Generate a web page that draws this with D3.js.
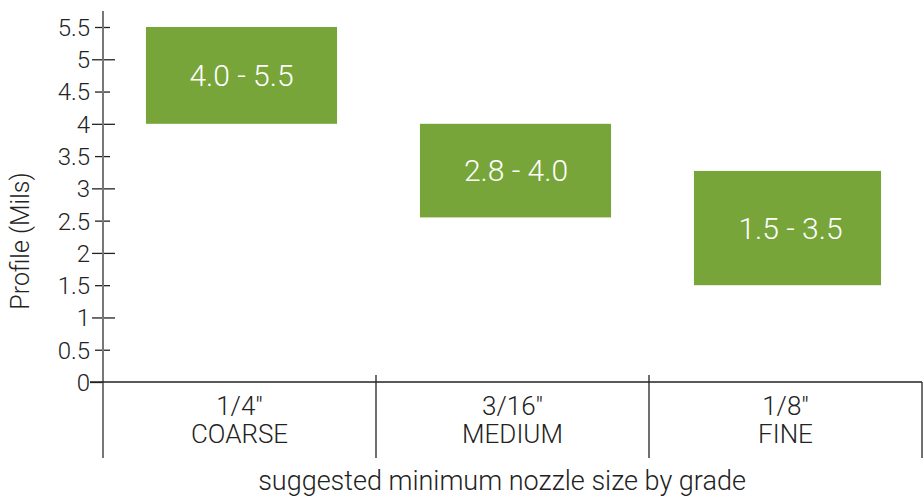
<!DOCTYPE html>
<html>
<head>
<meta charset="utf-8">
<script src="https://cdn.jsdelivr.net/npm/d3@7"></script>
<style>
  body { margin: 0; background: #fff; }
  svg text { font-family: Roboto, "Liberation Sans", sans-serif; font-weight: 300; fill: #222; }
</style>
</head>
<body>
<div class="chart"></div>
<script>
// data ============================================ //
var grades = ["COARSE", "MEDIUM", "FINE"];
var nozzles = ["1/4\u2033", "3/16\u2033", "1/8\u2033"];
var lows = [4.0, 2.55, 1.5];
var highs = [5.5, 4.0, 3.27];
var rangeLabels = ["4.0 - 5.5", "2.8 - 4.0", "1.5 - 3.5"];
var yTicks = [0, 0.5, 1, 1.5, 2, 2.5, 3, 3.5, 4, 4.5, 5, 5.5];

var width = 924, height = 497;
var margin = { top: 27, left: 103, right: 2, axisY: 382 };

var svg = d3.select(".chart")
  .append("svg")
  .attr("width", width)
  .attr("height", height);

var y = d3.scaleLinear()
  .domain([0, 5.5])
  .range([margin.axisY, margin.top]);

var x = d3.scaleBand()
  .domain(grades)
  .range([margin.left, width - margin.right])
  .paddingInner(0);

// bars
var data = grades.map(function (g, i) {
  return { grade: g, lo: lows[i], hi: highs[i], label: rangeLabels[i] };
});

var barW = x.bandwidth() * 0.7;
svg.append("g")
  .selectAll("rect")
  .data(data)
  .enter()
  .append("rect")
  .attr("x", function (d, i) { return x(d.grade) + (x.bandwidth() - barW) / 2 + 2 + i; })
  .attr("width", function (d, i) { return i === 2 ? barW - 4 : barW; })
  .attr("y", function (d) { return y(d.hi); })
  .attr("height", function (d) { return y(d.lo) - y(d.hi); })
  .attr("fill", "#78a53a");

svg.append("g")
  .selectAll("text")
  .data(data)
  .enter()
  .append("text")
  .attr("x", function (d, i) { return x(d.grade) + x.bandwidth() / 2 + 2 + i * 1.5; })
  .attr("y", function (d) { return (y(d.lo) + y(d.hi)) / 2; })
  .attr("text-anchor", "middle")
  .attr("dominant-baseline", "central")
  .attr("font-size", "30px")
  .style("fill", "#fff")
  .text(function (d) { return d.label; });

// y axis
var yAxis = svg.append("g")
  .attr("transform", "translate(" + margin.left + ",0)")
  .call(d3.axisLeft(y).tickValues(yTicks).tickSize(0).tickPadding(13)
    .tickFormat(function (d) { return d3.format("")(d); }));
yAxis.select(".domain").remove();
yAxis.selectAll("text")
  .attr("font-size", "24px")
  .attr("dy", "0.35em")
  .style("fill", "#222");
yAxis.selectAll(".tick line")
  .attr("x1", function (d) { return d % 1 === 0 ? -11 : -8; })
  .attr("x2", function (d) { return d % 1 === 0 ? 12 : 7; })
  .attr("stroke", "#222")
  .attr("stroke-width", 1.3);
yAxis.select(".tick line").attr("x1", -13).attr("x2", 0); // zero tick joins the baseline

svg.append("line")
  .attr("x1", margin.left).attr("x2", margin.left)
  .attr("y1", 11).attr("y2", 458)
  .attr("stroke", "#777")
  .attr("stroke-width", 2);

// x baseline and category dividers
svg.append("line")
  .attr("x1", margin.left - 13).attr("x2", width - margin.right)
  .attr("y1", y(0)).attr("y2", y(0))
  .attr("stroke", "#222")
  .attr("stroke-width", 1.3);

svg.append("g")
  .selectAll("line")
  .data(grades.slice(1).concat(["end"]))
  .enter()
  .append("line")
  .attr("x1", function (d) { return d === "end" ? width - margin.right : x(d); })
  .attr("x2", function (d) { return d === "end" ? width - margin.right : x(d); })
  .attr("y1", function (d) { return d === "end" ? y(0) : y(0) - 7; })
  .attr("y2", 458)
  .attr("stroke", "#222")
  .attr("stroke-width", 1.3);

// category labels
var cats = svg.append("g")
  .selectAll("g")
  .data(grades)
  .enter()
  .append("g")
  .attr("transform", function (d) { return "translate(" + (x(d) + x.bandwidth() / 2) + ",0)"; });
cats.append("text")
  .attr("y", 415)
  .attr("text-anchor", "middle")
  .attr("font-size", "26px")
  .text(function (d, i) { return nozzles[i]; });
cats.append("text")
  .attr("y", 443)
  .attr("text-anchor", "middle")
  .attr("font-size", "26px")
  .text(function (d) { return d; });

// axis titles
svg.append("text")
  .attr("x", 502)
  .attr("y", 490)
  .attr("text-anchor", "middle")
  .attr("font-size", "27px")
  .text("suggested minimum nozzle size by grade");

svg.append("text")
  .attr("transform", "translate(29,241) rotate(-90)")
  .attr("text-anchor", "middle")
  .attr("font-size", "25px")
  .text("Profile (Mils)");
</script>
</body>
</html>
